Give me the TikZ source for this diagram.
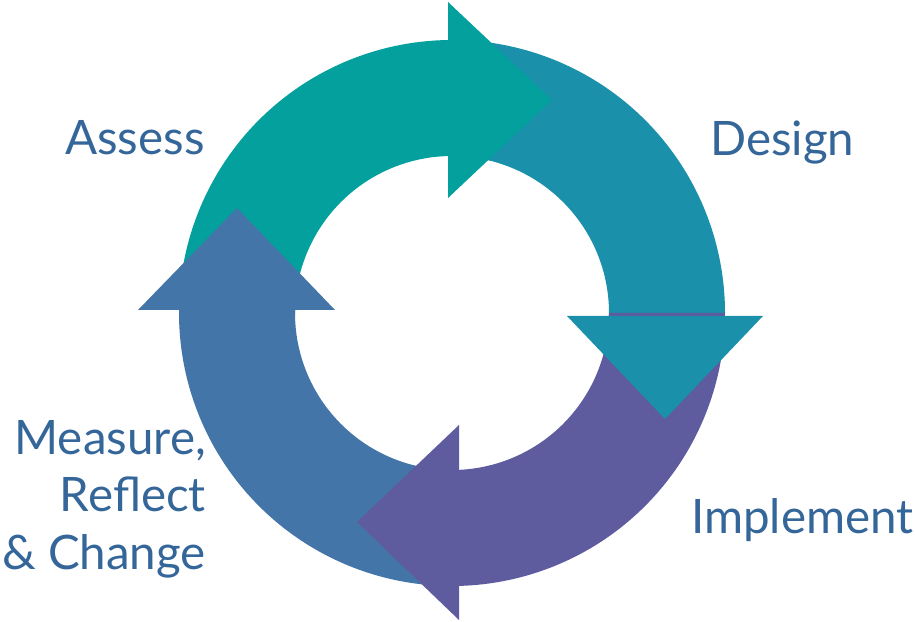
\documentclass[tikz,border=0pt]{standalone}
\usepackage{fontspec}
\setmainfont{Lato}
\definecolor{cAssess}{HTML}{03A09D}
\definecolor{cDesign}{HTML}{1A90AA}
\definecolor{cImpl}{HTML}{5E5B9F}
\definecolor{cMeas}{HTML}{4475A9}
\definecolor{cText}{HTML}{356699}
\begin{document}
\begin{tikzpicture}[x=1pt,y=1pt,
  lab/.style={inner sep=0pt,text=cText,font=\fontsize{47.5}{47.5}\selectfont}]
\useasboundingbox (0,0) rectangle (915,621);
\coordinate (c) at (452,308);
\def\Ro{273}\def\Ri{157}
% shafts
\fill[cAssess] ([shift={(180:\Ro)}]c) arc[start angle=180,end angle=86,radius=\Ro]
  -- ([shift={(86:\Ri)}]c) arc[start angle=86,end angle=180,radius=\Ri] -- cycle;
\fill[cDesign] ([shift={(90:\Ro)}]c) arc[start angle=90,end angle=-4,radius=\Ro]
  -- ([shift={(-4:\Ri)}]c) arc[start angle=-4,end angle=90,radius=\Ri] -- cycle;
\fill[cImpl] ([shift={(0:\Ro)}]c) arc[start angle=0,end angle=-94,radius=\Ro]
  -- ([shift={(-94:\Ri)}]c) arc[start angle=-94,end angle=0,radius=\Ri] -- cycle;
\fill[cMeas] ([shift={(-90:\Ro)}]c) arc[start angle=-90,end angle=-184,radius=\Ro]
  -- ([shift={(-184:\Ri)}]c) arc[start angle=-184,end angle=-90,radius=\Ri] -- cycle;
% arrowheads
\fill[cAssess] (448,619) -- (552,521) -- (448,423) -- cycle;
\fill[cDesign] (567,305) -- (665,202) -- (763,305) -- cycle;
\fill[cImpl] (459,196) -- (357,99) -- (459,1) -- cycle;
\fill[cMeas] (138,311) -- (237,413) -- (335,311) -- cycle;
% labels
\node[lab,anchor=base west] (assess) at (65,466) {Assess};
\node[lab,anchor=base west] (design) at (710,465) {Design};
\node[lab,anchor=base west] (impl) at (691,87) {Implement};
\node[lab,anchor=base east] (meas1) at (206,166) {Measure,};
\node[lab,anchor=base east] (meas2) at (206,109) {Reflect};
\node[lab,anchor=base east] (meas3) at (206,52) {\& Change};
\end{tikzpicture}
\end{document}
